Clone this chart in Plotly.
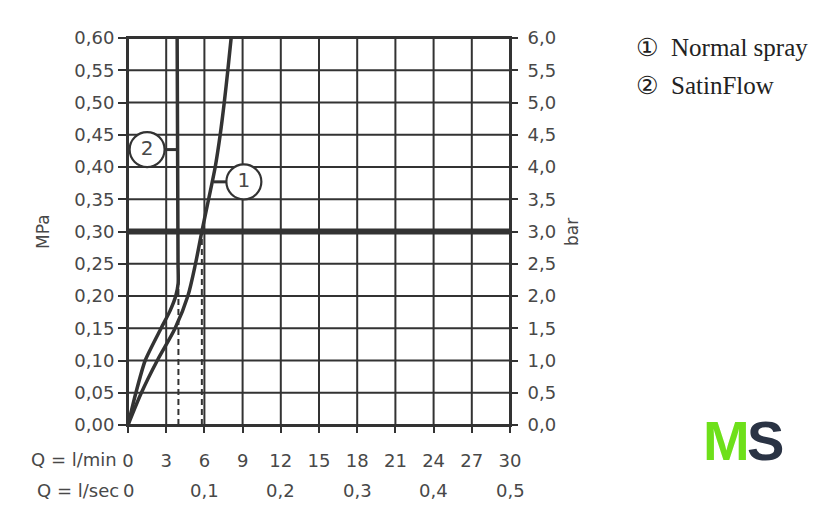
import plotly.graph_objects as go

# ---- data ----
q_min_ticks = [0, 3, 6, 9, 12, 15, 18, 21, 24, 27, 30]
q_sec_pos = [0, 6, 12, 18, 24, 30]
q_sec_labels = ["0", "0,1", "0,2", "0,3", "0,4", "0,5"]
mpa_ticks = [0, 0.05, 0.10, 0.15, 0.20, 0.25, 0.30, 0.35, 0.40, 0.45, 0.50, 0.55, 0.60]
bar_ticks = [0, 0.5, 1.0, 1.5, 2.0, 2.5, 3.0, 3.5, 4.0, 4.5, 5.0, 5.5, 6.0]

normal_p = [0, 0.05, 0.10, 0.15, 0.20, 0.25, 0.30, 0.35, 0.40, 0.45, 0.50, 0.55, 0.60]
normal_q = [0, 1.05, 2.3, 3.7, 4.7, 5.3, 5.8, 6.33, 6.85, 7.24, 7.56, 7.84, 8.1]

satin_p = [0, 0.05, 0.10, 0.15, 0.177, 0.20, 0.22, 0.25, 0.30, 0.40, 0.50, 0.60]
satin_q = [0, 0.62, 1.35, 2.6, 3.3, 3.75, 3.94, 3.93, 3.92, 3.9, 3.88, 3.86]

ref_pressure = 0.30
normal_at_ref = 5.8
satin_at_ref = 3.96
satin_dash_top = 0.222

series_names = ["Normal spray", "SatinFlow"]
callout_num = ["1", "2"]
callout_curve_q = [6.72, 3.88]
callout_center_q = [9.1, 1.5]
callout_p = [0.377, 0.427]

INK = "#333333"
TXT = "#484848"
FONT = "DejaVu Sans"

# plot area in page pixels (page has an 8px body margin)
OFF = 8
L, R, T, B = 128, 510, 38, 425
W, H = 840, 531

fig = go.Figure()

# grid lines as traces through the axes' scales
gx, gy = [], []
for q in q_min_ticks:
    gx += [q, q, None]
    gy += [0, 0.6, None]
fig.add_trace(go.Scatter(x=gx, y=gy, mode="lines", line=dict(color=INK, width=2), hoverinfo="skip", showlegend=False, cliponaxis=False))
hx, hy = [], []
for p in mpa_ticks:
    hx += [0, 30, None]
    hy += [p, p, None]
fig.add_trace(go.Scatter(x=hx, y=hy, mode="lines", line=dict(color=INK, width=2), hoverinfo="skip", showlegend=False, cliponaxis=False))

# curves
fig.add_trace(go.Scatter(x=normal_q, y=normal_p, mode="lines", line=dict(color=INK, width=3.5, shape="spline", smoothing=0.8), hoverinfo="skip", showlegend=False))
fig.add_trace(go.Scatter(x=satin_q, y=satin_p, mode="lines", line=dict(color=INK, width=3.5, shape="spline", smoothing=0.6), hoverinfo="skip", showlegend=False))

# reference thick line at 0.30 MPa
fig.add_trace(go.Scatter(x=[0, 30], y=[ref_pressure, ref_pressure], mode="lines", line=dict(color=INK, width=6), hoverinfo="skip", showlegend=False, cliponaxis=False))

# dashed drop lines
fig.add_trace(go.Scatter(x=[normal_at_ref, normal_at_ref], y=[0, ref_pressure], mode="lines", line=dict(color=INK, width=2, dash="6px,4px"), hoverinfo="skip", showlegend=False))
fig.add_trace(go.Scatter(x=[satin_at_ref, satin_at_ref], y=[0, satin_dash_top], mode="lines", line=dict(color=INK, width=2, dash="6px,4px"), hoverinfo="skip", showlegend=False))

# callout leaders and circles
for i in range(2):
    fig.add_trace(go.Scatter(x=[callout_curve_q[i], callout_center_q[i]], y=[callout_p[i], callout_p[i]], mode="lines", line=dict(color=INK, width=3), hoverinfo="skip", showlegend=False))
fig.add_trace(go.Scatter(x=callout_center_q, y=callout_p, mode="markers+text", text=callout_num,
                         textposition="middle center", textfont=dict(family=FONT, size=20, color=TXT),
                         marker=dict(symbol="circle", size=35, color="white", line=dict(color=INK, width=2.2)),
                         hoverinfo="skip", showlegend=False, cliponaxis=False))

# invisible trace for the right axis
fig.add_trace(go.Scatter(x=[0, 30], y=[0, 6], yaxis="y2", mode="lines", line=dict(width=0), opacity=0, hoverinfo="skip", showlegend=False))

fig.update_layout(
    width=W, height=H,
    margin=dict(l=L - OFF, r=W - R + OFF, t=T - OFF, b=H - B + OFF, autoexpand=False),
    paper_bgcolor="white", plot_bgcolor="white",
    separators=",.",
    showlegend=False,
    xaxis=dict(range=[0, 30], tickvals=q_min_ticks, showgrid=False, automargin=False,
               showline=True, linecolor=INK, linewidth=2, mirror=True, zeroline=False,
               ticks="outside", ticklen=6, tickwidth=2, tickcolor=INK,
               tickfont=dict(family=FONT, size=18, color=TXT), ticklabelstandoff=12, fixedrange=True),
    yaxis=dict(range=[0, 0.6], tickvals=mpa_ticks, tickformat=".2f", showgrid=False, automargin=False,
               showline=True, linecolor=INK, linewidth=2, zeroline=False,
               ticks="outside", ticklen=8, tickwidth=2, tickcolor=INK,
               tickfont=dict(family=FONT, size=18, color=TXT), fixedrange=True),
    yaxis2=dict(range=[0, 6], tickvals=bar_ticks, tickformat=".1f", overlaying="y", side="right",
                showgrid=False, showline=True, linecolor=INK, linewidth=2, zeroline=False, automargin=False,
                ticks="outside", ticklen=6, tickwidth=2, tickcolor=INK,
                tickfont=dict(family=FONT, size=18, color=TXT), ticklabelstandoff=6, fixedrange=True),
)

def px(xp):
    return (xp - L) / (R - L)

def py(yp):
    return (B - yp) / (B - T)

ann = []
ann.append(dict(text="MPa", x=px(43), xref="paper", y=py(232), yref="paper", textangle=-90, showarrow=False,
                xanchor="center", yanchor="middle", font=dict(family=FONT, size=17, color=TXT)))
ann.append(dict(text="bar", x=px(572), xref="paper", y=py(232), yref="paper", textangle=-90, showarrow=False,
                xanchor="center", yanchor="middle", font=dict(family=FONT, size=17, color=TXT)))
ann.append(dict(text="Q = l/min", x=px(119), xref="paper", y=py(459), yref="paper", xanchor="right", yanchor="middle",
                showarrow=False, font=dict(family=FONT, size=18, color=TXT)))
ann.append(dict(text="Q = l/sec", x=px(121), xref="paper", y=py(490), yref="paper", xanchor="right", yanchor="middle",
                showarrow=False, font=dict(family=FONT, size=18, color=TXT)))
for pos, lab in zip(q_sec_pos, q_sec_labels):
    ann.append(dict(text=lab, x=pos, xref="x", y=py(490), yref="paper", xanchor="center", yanchor="middle",
                    showarrow=False, font=dict(family=FONT, size=18, color=TXT)))

# legend text (top right)
for k, (num, name) in enumerate(zip(["\u2460", "\u2461"], series_names)):
    ypix = 47 + 38 * k
    ann.append(dict(text=num, x=px(647), xref="paper", y=py(ypix), yref="paper", showarrow=False,
                    xanchor="center", yanchor="middle", font=dict(family="DejaVu Sans", size=25, color="#222")))
    ann.append(dict(text=name, x=px(669), xref="paper", y=py(ypix), yref="paper", showarrow=False,
                    xanchor="left", yanchor="middle", font=dict(family="Liberation Serif", size=25, color="#222")))

# MS logo
ann.append(dict(text="<b>M</b>", x=px(752), xref="paper", y=py(441), yref="paper", showarrow=False,
                xanchor="right", yanchor="middle", font=dict(family="Liberation Sans", size=56, color="#6ee01a")))
ann.append(dict(text="<b>S</b>", x=px(745), xref="paper", y=py(441), yref="paper", showarrow=False,
                xanchor="left", yanchor="middle", font=dict(family="Liberation Sans", size=56, color="#2a3344")))

fig.update_layout(annotations=ann)

fig.write_html("out.html")
